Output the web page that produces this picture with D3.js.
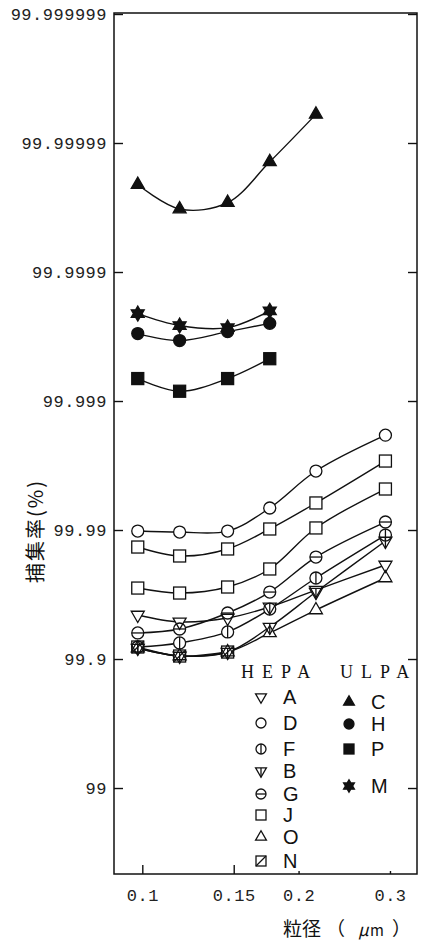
<!DOCTYPE html>
<html>
<head>
<meta charset="utf-8">
<script src="https://cdn.jsdelivr.net/npm/d3@7"></script>
<style>
  body { margin: 0; background: #fff; }
  svg { display: block; }
</style>
</head>
<body>
<svg id="chart" width="425" height="941"></svg>
<script>
// Particle diameters (µm) at which each filter was measured
const sizes = [0.098, 0.118, 0.146, 0.176, 0.216, 0.294];

// Collection efficiency (%) — ULPA filters
const ulpaC = [99.999979, 99.9999675, 99.999971, 99.999986, 99.999994];
const ulpaM = [99.99979, 99.99974, 99.99973, 99.99980];
const ulpaH = [99.99970, 99.99966, 99.99971, 99.99975];
const ulpaP = [99.99933, 99.99916, 99.99933, 99.99953];

// Collection efficiency (%) — HEPA filters
const hepaD  = [99.98981, 99.98963, 99.98981, 99.99325, 99.99651, 99.99816];
const hepaJ  = [99.98645, 99.98410, 99.98597, 99.99018, 99.99383, 99.99708];
const hepaJ2 = [99.97182, 99.96920, 99.97234, 99.97995, 99.99036, 99.99519];
const hepaA  = [99.9544, 99.9484, 99.9519, 99.9605, 99.9708, 99.98133];
const hepaG  = [99.9372, 99.9415, 99.9560, 99.96973, 99.9838, 99.99133];
const hepaF  = [99.9193, 99.9249, 99.9383, 99.9590, 99.97645, 99.98906];
const hepaB  = [99.9178, 99.9052, 99.9117, 99.9435, 99.96973, 99.98783];
const hepaO  = [99.9178, 99.9052, 99.9117, 99.9372, 99.9583, 99.97645];
const hepaN  = [99.9193, 99.9052, 99.9117];

// Axis ticks
const yTickValues = [99, 99.9, 99.99, 99.999, 99.9999, 99.99999, 99.999999];
const yTickLabels = ["99", "99.9", "99.99", "99.999", "99.9999", "99.99999", "99.999999"];
const xTickValues = [0.1, 0.15, 0.2, 0.3];
const xTickLabels = ["0.1", "0.15", "0.2", "0.3"];

// Series: data + marker symbol
const series = [
  { name: "C", values: ulpaC, symbol: "triUpFilled" },
  { name: "M", values: ulpaM, symbol: "star6" },
  { name: "H", values: ulpaH, symbol: "circleFilled" },
  { name: "P", values: ulpaP, symbol: "squareFilled" },
  { name: "D", values: hepaD, symbol: "circle" },
  { name: "J", values: hepaJ, symbol: "square" },
  { name: "J2", values: hepaJ2, symbol: "square" },
  { name: "A", values: hepaA, symbol: "triDown" },
  { name: "G", values: hepaG, symbol: "circleH" },
  { name: "F", values: hepaF, symbol: "circleV" },
  { name: "B", values: hepaB, symbol: "triDownV" },
  { name: "O", values: hepaO, symbol: "triUp" },
  { name: "N", values: hepaN, symbol: "squareSlash" }
];

const hepaLegend = [["triDown", "A"], ["circle", "D"], ["circleV", "F"], ["triDownV", "B"],
                    ["circleH", "G"], ["square", "J"], ["triUp", "O"], ["squareSlash", "N"]];
const ulpaLegend = [["triUpFilled", "C"], ["circleFilled", "H"], ["squareFilled", "P"], ["star6", "M"]];

const svg = d3.select("#chart");
const frame = { left: 114, right: 417, top: 13, bottom: 874 };

// log scale on diameter; log scale on penetration (100 - efficiency)
const x = d3.scaleLog().domain([0.0882, 0.3382]).range([frame.left, frame.right]);
const pen = d3.scaleLog().domain([1e-6, 4.64]).range([14, frame.bottom]);
const y = eff => pen(100 - eff);

const ink = "#111";

// Curves
const line = d3.line()
  .x(d => x(d[0]))
  .y(d => y(d[1]))
  .curve(d3.curveCatmullRom.alpha(0.5));

const gLines = svg.append("g");
series.forEach(s => {
  const pts = s.values.map((v, i) => [sizes[i], v]);
  gLines.append("path")
    .attr("d", line(pts))
    .attr("fill", "none")
    .attr("stroke", ink)
    .attr("stroke-width", 1.4);
});

// Triangle path; both orientations wound the same way so a hexagram fills solid
function triPath(cx, cy, r, up) {
  const R = r * 1.25, s = up ? 1 : -1;
  const p = d3.path();
  p.moveTo(cx, cy - s * R);
  if (up) {
    p.lineTo(cx - R * 0.866, cy + R * 0.5);
    p.lineTo(cx + R * 0.866, cy + R * 0.5);
  } else {
    p.lineTo(cx + R * 0.866, cy - R * 0.5);
    p.lineTo(cx - R * 0.866, cy - R * 0.5);
  }
  p.closePath();
  return p.toString();
}

// Marker drawing: "fill" pass paints a white backing, "stroke" pass draws outlines
function marker(g, type, cx, cy, r, pass) {
  const filled = type.endsWith("Filled") || type === "star6";
  const fill = pass === "fill" ? "#fff" : (filled ? ink : "none");
  const stroke = pass === "fill" ? "none" : ink;
  const sw = 1.3;
  const base = type.replace("Filled", "");
  let shape;
  if (base === "circle" || base === "circleV" || base === "circleH") {
    shape = g.append("circle").attr("cx", cx).attr("cy", cy).attr("r", r);
  } else if (base === "square" || base === "squareSlash") {
    shape = g.append("rect").attr("x", cx - r).attr("y", cy - r).attr("width", 2 * r).attr("height", 2 * r);
  } else if (base === "triUp") {
    shape = g.append("path").attr("d", triPath(cx, cy, r, true));
  } else if (base === "triDown" || base === "triDownV") {
    shape = g.append("path").attr("d", triPath(cx, cy, r, false));
  } else if (base === "star6") {
    shape = g.append("path").attr("d", triPath(cx, cy, r, true) + triPath(cx, cy, r, false));
  }
  shape.attr("fill", fill).attr("stroke", stroke).attr("stroke-width", sw);
  if (pass !== "stroke") return;
  const seg = (x1, y1, x2, y2) => g.append("line")
    .attr("x1", x1).attr("y1", y1).attr("x2", x2).attr("y2", y2)
    .attr("stroke", ink).attr("stroke-width", sw);
  if (base === "circleV") seg(cx, cy - r, cx, cy + r);
  if (base === "circleH") seg(cx - r, cy, cx + r, cy);
  if (base === "triDownV") seg(cx, cy - r * 0.62, cx, cy + r * 1.25);
  if (base === "squareSlash") seg(cx - r, cy + r, cx + r, cy - r);
}

const gMarks = svg.append("g");
["fill", "stroke"].forEach(pass => {
  series.forEach(s => {
    s.values.forEach((v, i) => marker(gMarks, s.symbol, x(sizes[i]), y(v), 6, pass));
  });
});

// Frame
svg.append("rect")
  .attr("x", frame.left).attr("y", frame.top)
  .attr("width", frame.right - frame.left).attr("height", frame.bottom - frame.top)
  .attr("fill", "none").attr("stroke", ink).attr("stroke-width", 1.5);

const tickFont = "'Liberation Mono', 'DejaVu Sans Mono', monospace";

// Left axis with inward ticks
const yPen = yTickValues.map(v => 100 - v);
const leftAxis = svg.append("g")
  .attr("transform", `translate(${frame.left},0)`)
  .call(d3.axisLeft(pen).tickValues(yPen).tickSize(-9).tickPadding(7)
    .tickFormat((d, i) => yTickLabels[i]));
leftAxis.select(".domain").remove();
leftAxis.selectAll("line").attr("stroke", ink).attr("stroke-width", 1.4);
leftAxis.selectAll("text")
  .attr("font-family", tickFont).attr("font-size", 17)
  .attr("letter-spacing", "0.5px").attr("fill", "#222");

// Right axis, ticks only
const rightAxis = svg.append("g")
  .attr("transform", `translate(${frame.right},0)`)
  .call(d3.axisRight(pen).tickValues(yPen).tickSize(-9).tickFormat(""));
rightAxis.select(".domain").remove();
rightAxis.selectAll("line").attr("stroke", ink).attr("stroke-width", 1.4);

// Bottom axis
const bottomAxis = svg.append("g")
  .attr("transform", `translate(0,${frame.bottom})`)
  .call(d3.axisBottom(x).tickValues(xTickValues).tickSize(-9).tickPadding(15)
    .tickFormat((d, i) => xTickLabels[i]));
bottomAxis.select(".domain").remove();
bottomAxis.selectAll("line").attr("stroke", ink).attr("stroke-width", 1.4)
  .filter(d => d > 0.16).attr("y2", -3);
bottomAxis.selectAll("text")
  .attr("font-family", tickFont).attr("font-size", 17)
  .attr("letter-spacing", "0.5px").attr("fill", "#222");

// Axis titles
svg.append("text")
  .attr("transform", "translate(43,531) rotate(-90)")
  .attr("text-anchor", "middle")
  .attr("font-family", "'Noto Sans CJK JP', 'Noto Sans CJK SC', sans-serif")
  .attr("font-size", 20).attr("letter-spacing", "2px").attr("fill", ink)
  .text("捕集率(%)");

const xTitle = svg.append("text")
  .attr("y", 936)
  .attr("font-family", "'Noto Sans CJK JP', 'Noto Sans CJK SC', sans-serif")
  .attr("font-size", 19).attr("fill", ink);
xTitle.append("tspan").attr("x", 283).text("粒径");
xTitle.append("tspan").attr("x", 326).text("（");
xTitle.append("tspan").attr("x", 358).attr("font-style", "italic").attr("font-size", 17).text("μ");
xTitle.append("tspan").attr("x", 370).attr("font-size", 15).text("m");
xTitle.append("tspan").attr("x", 392).text("）");

// Legend
const legendHead = (txt, xPos) => svg.append("text")
  .attr("x", xPos).attr("y", 678)
  .attr("font-family", "'Liberation Serif', serif").attr("font-size", 18)
  .attr("letter-spacing", "8px").attr("fill", ink).text(txt);
legendHead("HEPA", 241);
legendHead("ULPA", 340);

const hepaRows = [697, 723, 749, 771, 794, 815, 837, 861];
const ulpaRows = [702, 724, 749, 786];
const gLeg = svg.append("g");
function legendItem(sym, label, sx, lx, yy) {
  ["fill", "stroke"].forEach(pass => marker(gLeg, sym, sx, yy, 5, pass));
  gLeg.append("text")
    .attr("x", lx).attr("y", yy).attr("dy", "0.36em")
    .attr("font-family", "'Liberation Sans', Arial, sans-serif")
    .attr("font-size", 20).attr("fill", ink).text(label);
}
hepaLegend.forEach((d, i) => legendItem(d[0], d[1], 261, 283, hepaRows[i]));
ulpaLegend.forEach((d, i) => legendItem(d[0], d[1], 349, 371, ulpaRows[i]));
</script>
</body>
</html>
